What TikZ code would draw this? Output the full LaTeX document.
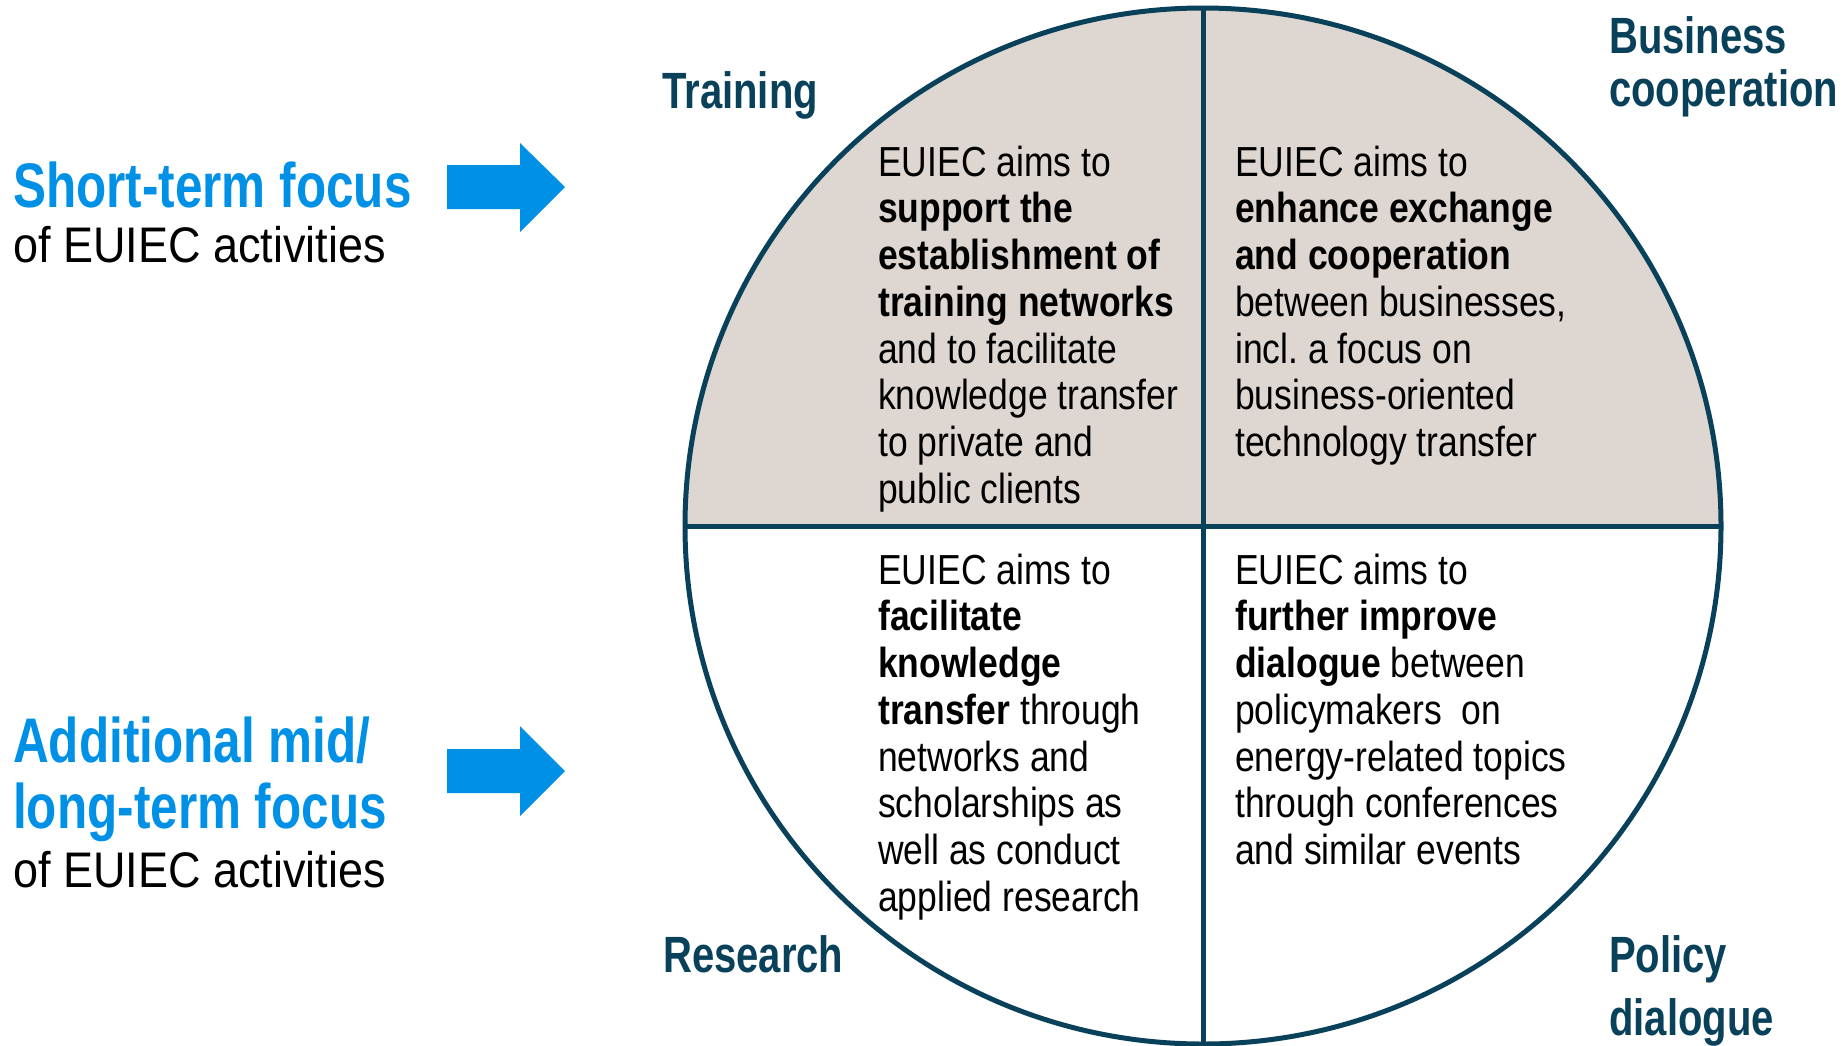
\documentclass[tikz,border=0pt]{standalone}
\usepackage{fontspec}
\setmainfont{Liberation Sans}
\newfontfamily\headfont[FakeStretch=0.785]{Liberation Sans}
\newfontfamily\subfont[FakeStretch=0.9]{Liberation Sans}
\newfontfamily\bodyfont[FakeStretch=0.845]{Liberation Sans}
\definecolor{euiblue}{RGB}{0,145,230}
\definecolor{euiteal}{RGB}{10,65,90}
\definecolor{euibeige}{RGB}{222,214,208}
\tikzset{
  lefthead/.style={anchor=base west, inner sep=0pt, text=euiblue, font=\headfont\bfseries\fontsize{63}{63}\selectfont},
  leftsub/.style={anchor=base west, inner sep=0pt, text=black, font=\subfont\fontsize{50}{50}\selectfont},
  quadlabel/.style={anchor=base west, inner sep=0pt, text=euiteal, font=\headfont\bfseries\fontsize{51}{51}\selectfont},
  aimtext/.style={anchor=north west, inner sep=0pt, align=left, text=black, font=\bodyfont\fontsize{42}{46.7}\selectfont\frenchspacing},
  focusarrow/.style={fill=euiblue, draw=none},
  divider/.style={draw=euiteal, line width=5pt},
  upperfill/.style={fill=euibeige, draw=none}
}
\newcommand{\firstline}{\rule{0pt}{36pt}}
\begin{document}
\begin{tikzpicture}[x=1pt,y=-1pt]
\useasboundingbox (0,0) rectangle (1847,1045);
% circle geometry
\coordinate (C) at (1203,526);
\coordinate (L) at (685,526);
\coordinate (R) at (1721,526);
\coordinate (T) at (1203,8);
\coordinate (B) at (1203,1044);
\fill[upperfill] (L) arc[start angle=180, end angle=360, radius=518] -- cycle;
\draw[divider] (C) circle[radius=518];
\draw[divider] (L) -- (R);
\draw[divider] (T) -- (B);
% arrows
\fill[focusarrow] (447,165) -- (520,165) -- (520,143) -- (565,187) -- (520,232) -- (520,209) -- (447,209) -- cycle;
\fill[focusarrow] (447,749) -- (520,749) -- (520,726) -- (565,771) -- (520,816) -- (520,793) -- (447,793) -- cycle;
% left texts
\node[lefthead] (st) at (13,207) {Short-term focus};
\node[leftsub] (st2) at (13,262) {of EUIEC activities};
\node[lefthead] (lt1) at (13,762) {Additional mid/};
\node[lefthead] (lt2) at (13,828) {long-term focus};
\node[leftsub] (lt3) at (13,887) {of EUIEC activities};
% quadrant labels
\node[quadlabel] (training) at (662,108) {Training};
\node[quadlabel] (business) at (1609,53) {Business};
\node[quadlabel] (coop) at (1609,106) {cooperation};
\node[quadlabel] (research) at (663,972) {Research};
\node[quadlabel] (policy) at (1609,972) {Policy};
\node[quadlabel] (dialogue) at (1609,1035) {dialogue};
% quadrant texts
\node[aimtext] (q1) at (878,140) {\firstline EUIEC aims to\\ \textbf{support the}\\ \textbf{establishment of}\\ \textbf{training networks}\\ and to facilitate\\ knowledge transfer\\ to private and\\ public clients};
\node[aimtext] (q2) at (1235,140) {\firstline EUIEC aims to\\ \textbf{enhance exchange}\\ \textbf{and cooperation}\\ between businesses,\\ incl. a focus on\\ business-oriented\\ technology transfer};
\node[aimtext] (q3) at (878,548) {\firstline EUIEC aims to\\ \textbf{facilitate}\\ \textbf{knowledge}\\ \textbf{transfer} through\\ networks and\\ scholarships as\\ well as conduct\\ applied research};
\node[aimtext] (q4) at (1235,548) {\firstline EUIEC aims to\\ \textbf{further improve}\\ \textbf{dialogue} between\\ policymakers~ on\\ energy-related topics\\ through conferences\\ and similar events};
\end{tikzpicture}
\end{document}
